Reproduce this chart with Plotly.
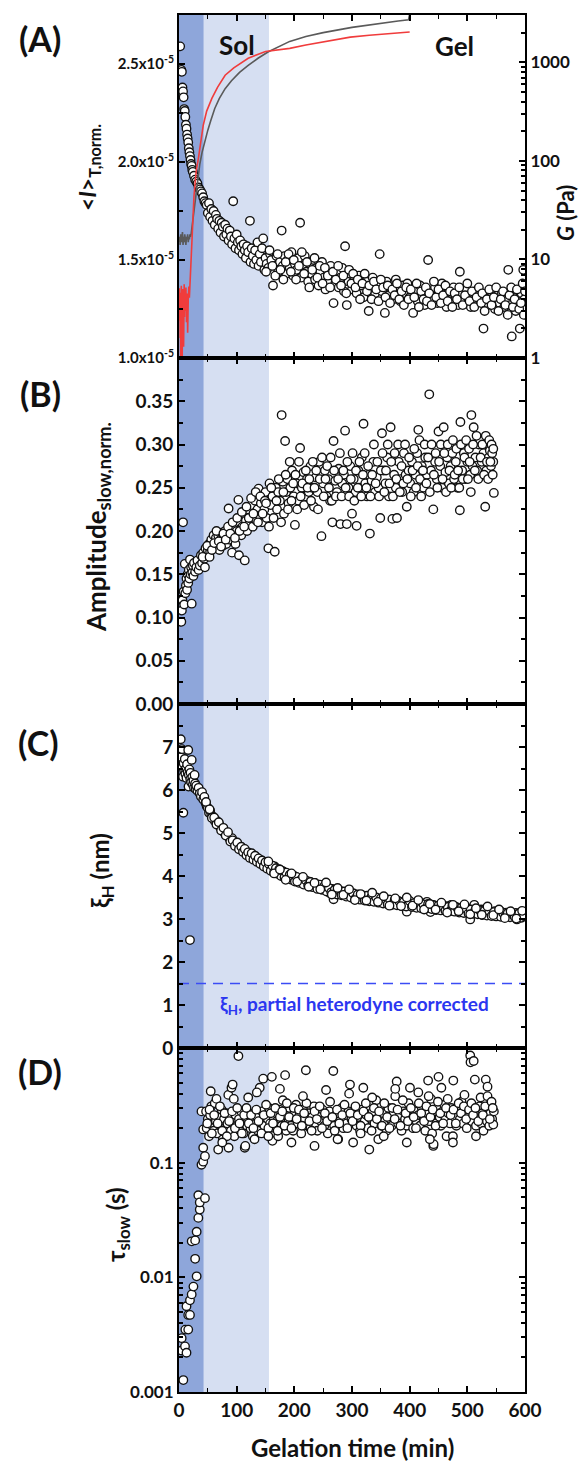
import plotly.graph_objects as go

# ---------------- data ----------------
# (A) normalised time-averaged intensity, in units of 1e-5
I_SCALE = 1e-5
t_A = [2, 4, 5, 6, 7, 8, 9, 10, 11, 12, 13, 14, 15, 16, 17, 18, 19, 20, 21, 22, 23, 24, 26, 28, 30, 32, 34, 36, 38, 40,
       42, 44, 46, 48, 50, 52, 54, 56, 58, 60, 62, 64, 66, 68, 70, 72, 74, 76, 78, 80, 82, 84, 86, 88, 90, 92, 94, 96,
       98, 100, 102, 104, 106, 108, 110, 112, 114, 116, 118, 120, 123, 124, 126, 128, 130, 132, 134, 136, 138, 140, 142,
       144, 146, 148, 150, 152, 155, 158, 160, 163, 166, 169, 172, 175, 178, 180, 183, 186, 189, 192, 195, 198, 201, 204,
       207, 210, 212, 215, 218, 221, 224, 227, 230, 233, 236, 239, 242, 245, 248, 251, 254, 257, 260, 263, 266, 268, 271,
       274, 277, 280, 283, 286, 288, 291, 294, 297, 300, 304, 308, 312, 316, 320, 324, 329, 332, 336, 340, 344, 348, 352,
       357, 360, 364, 368, 372, 376, 380, 384, 388, 392, 396, 400, 406, 410, 414, 418, 422, 426, 432, 436, 440, 444, 448,
       452, 456, 460, 464, 468, 472, 476, 480, 484, 487, 490, 494, 498, 502, 506, 510, 514, 518, 522, 528, 532, 536, 540,
       544, 548, 552, 556, 560, 564, 568, 571, 574, 577, 580, 584, 588, 591, 594, 597, 599]
I_A = [2.59, 2.47, 2.46, 2.38, 2.36, 2.33, 2.27, 2.26, 2.23, 2.19, 2.17, 2.14, 2.12, 2.10, 2.07, 2.05, 2.03, 2.01, 1.99,
       1.98, 1.96, 1.95, 1.93, 1.91, 1.90, 1.89, 1.87, 1.86, 1.85, 1.84, 1.82, 1.80, 1.79, 1.78, 1.74, 1.79, 1.72, 1.76,
       1.70, 1.75, 1.68, 1.73, 1.71, 1.66, 1.70, 1.64, 1.69, 1.67, 1.62, 1.68, 1.63, 1.66, 1.60, 1.65, 1.62, 1.58, 1.80,
       1.61, 1.56, 1.63, 1.59, 1.55, 1.60, 1.57, 1.53, 1.58, 1.55, 1.51, 1.57, 1.54, 1.70, 1.49, 1.56, 1.52, 1.48, 1.55,
       1.50, 1.59, 1.47, 1.53, 1.49, 1.56, 1.61, 1.45, 1.51, 1.48, 1.46, 1.53, 1.50, 1.37, 1.47, 1.52, 1.44, 1.49, 1.65,
       1.47, 1.52, 1.43, 1.50, 1.46, 1.54, 1.42, 1.48, 1.45, 1.51, 1.69, 1.41, 1.47, 1.52, 1.44, 1.39, 1.48, 1.43, 1.50,
       1.40, 1.46, 1.37, 1.44, 1.49, 1.41, 1.35, 1.45, 1.39, 1.47, 1.42, 1.28, 1.38, 1.44, 1.36, 1.41, 1.46, 1.34, 1.57,
       1.27, 1.39, 1.43, 1.35, 1.40, 1.33, 1.42, 1.37, 1.31, 1.39, 1.24, 1.36, 1.41, 1.33, 1.38, 1.53, 1.34, 1.23, 1.39,
       1.32, 1.36, 1.30, 1.40, 1.34, 1.29, 1.37, 1.33, 1.38, 1.31, 1.23, 1.35, 1.29, 1.37, 1.32, 1.27, 1.50, 1.34, 1.30,
       1.36, 1.28, 1.33, 1.38, 1.31, 1.26, 1.34, 1.29, 1.36, 1.31, 1.27, 1.44, 1.33, 1.29, 1.35, 1.30, 1.26, 1.33, 1.28,
       1.35, 1.30, 1.15, 1.32, 1.27, 1.34, 1.29, 1.25, 1.32, 1.28, 1.33, 1.26, 1.30, 1.45, 1.27, 1.11, 1.31, 1.24, 1.29,
       1.15, 1.33, 1.45, 1.30]
# second pass of the same acquisition (interleaved time stamps)
t_A2 = [151, 157, 162, 167, 171, 176, 181, 185, 190, 194, 199, 203, 208, 213, 217, 222, 226, 231, 235, 240, 244, 249,
        253, 258, 262, 267, 272, 276, 281, 285, 290, 295, 299, 302, 306, 310, 314, 318, 322, 326, 330, 334, 338, 342,
        346, 350, 354, 358, 362, 366, 370, 374, 378, 382, 386, 390, 394, 398, 402, 408, 412, 416, 420, 424, 428, 430,
        434, 438, 442, 446, 450, 454, 458, 462, 466, 470, 474, 478, 482, 486, 492, 496, 500, 504, 508, 512, 516, 520,
        524, 526, 530, 534, 538, 542, 546, 550, 554, 558, 562, 566, 570, 573, 576, 579, 582, 586, 590, 593, 596, 598,
        600]
I_A2 = [1.44, 1.55, 1.47, 1.42, 1.53, 1.45, 1.40, 1.49, 1.53, 1.44, 1.50, 1.40, 1.47, 1.54, 1.43, 1.49, 1.36, 1.45,
        1.51, 1.41, 1.47, 1.38, 1.46, 1.42, 1.36, 1.44, 1.40, 1.47, 1.37, 1.42, 1.33, 1.45, 1.38, 1.43, 1.36, 1.40,
        1.30, 1.38, 1.43, 1.34, 1.37, 1.30, 1.39, 1.35, 1.29, 1.40, 1.36, 1.31, 1.37, 1.28, 1.35, 1.32, 1.38, 1.30,
        1.34, 1.27, 1.36, 1.30, 1.35, 1.31, 1.38, 1.26, 1.34, 1.30, 1.36, 1.29, 1.33, 1.27, 1.39, 1.31, 1.35, 1.28,
        1.32, 1.37, 1.29, 1.34, 1.26, 1.33, 1.30, 1.36, 1.27, 1.32, 1.38, 1.29, 1.34, 1.26, 1.31, 1.36, 1.28, 1.33,
        1.24, 1.30, 1.35, 1.27, 1.31, 1.36, 1.24, 1.30, 1.34, 1.27, 1.22, 1.32, 1.36, 1.26, 1.30, 1.35, 1.25, 1.28,
        1.38, 1.22, 1.34]

# (A) rheology: storage modulus G' and loss modulus G'' (Pa)
t_Gs = [0, 1, 2, 3, 4, 5, 6, 7, 8, 9, 10, 11, 12, 13, 14, 15, 16, 17, 18, 19, 20, 21, 22, 23, 24, 25, 26, 28, 30, 33,
        36, 40, 45, 50, 55, 62, 70, 80, 91, 105, 120, 137, 155, 175, 192, 220, 250, 300, 350, 380, 398, 400]
G_storage = [15, 17, 14, 18, 15, 16, 19, 14, 17, 15, 18, 16, 14, 17, 16, 18, 15, 17, 16, 18, 17, 18, 20, 22, 25, 29,
             33, 42, 52, 70, 92, 122, 160, 205, 255, 340, 430, 540, 650, 790, 930, 1100, 1280, 1450, 1630, 1830,
             2000, 2260, 2500, 2620, 2700, 3100]
t_Gl = [0, 0.5, 1, 1.5, 2, 2.5, 3, 3.5, 4, 4.5, 5, 5.5, 6, 6.5, 7, 7.5, 8, 8.5, 9, 9.5, 10, 11, 12, 13, 14, 15, 16,
        17, 18, 19, 20, 21, 22, 24, 26, 28, 30, 33.5, 37, 42, 48, 57, 67, 80, 95, 120, 150, 178, 192, 220, 250, 297,
        330, 360, 397, 400]
G_loss = [3.2, 5.1, 2.4, 4.6, 1.6, 3.8, 0.7, 2.9, 5.4, 1.9, 4.2, 0.8, 3.1, 5.0, 2.2, 4.4, 1.3, 3.6, 5.6, 2.6, 4.8,
          3.0, 5.2, 2.3, 4.5, 1.8, 3.9, 5.3, 4.1, 5.8, 6.5, 9, 15, 25, 44, 60, 80, 105, 150, 229, 320, 430, 560, 740,
          880, 1100, 1290, 1350, 1385, 1500, 1620, 1800, 1880, 1950, 2020, 2030]

# (B) normalised amplitude of the slow mode
t_B = [4, 5, 6, 7, 8, 9, 10, 11, 12, 13, 14, 15, 16, 17, 18, 19, 20, 21, 22, 23, 24, 25, 26, 28, 30, 32, 34, 36, 38,
       40, 42, 44, 46, 48, 50, 52, 54, 56, 58, 60, 62, 64, 66, 68, 70, 72, 74, 76, 78, 80, 82, 84, 86, 88, 90, 92, 94,
       96, 98, 100, 103, 104, 106, 108, 110, 112, 114, 116, 118, 120, 122, 124, 126, 128, 130, 132, 134, 136, 138, 140,
       142, 144, 146, 148, 150, 152, 155, 157, 159, 162, 166, 168, 170, 172, 175, 178, 180, 182, 184, 186, 188, 190,
       193, 196, 199, 201, 204, 207, 210, 213, 216, 219, 222, 225, 228, 231, 234, 237, 240, 243, 247, 250, 253, 256,
       259, 262, 266, 268, 271, 274, 277, 280, 283, 286, 288, 291, 294, 297, 300, 303, 306, 308, 311, 314, 317, 320,
       323, 326, 329, 331, 334, 337, 340, 343, 346, 349, 352, 355, 358, 361, 364, 367, 370, 373, 376, 378, 381, 384,
       387, 390, 393, 395, 398, 401, 404, 407, 410, 413, 415, 418, 421, 424, 427, 430, 434, 437, 441, 444, 447, 450,
       453, 456, 459, 462, 465, 468, 471, 474, 477, 480, 483, 487, 488, 491, 494, 497, 500, 503, 505, 507, 509, 511,
       514, 517, 520, 522, 525, 528, 531, 533, 535, 537, 539, 541, 543, 545, 546]
amp_B = [0.095, 0.108, 0.12, 0.21, 0.13, 0.115, 0.162, 0.128, 0.137, 0.145, 0.132, 0.15, 0.14, 0.155, 0.145, 0.167,
         0.15, 0.158, 0.116, 0.152, 0.16, 0.148, 0.163, 0.153, 0.158, 0.166, 0.155, 0.16, 0.172, 0.163, 0.175, 0.168,
         0.18, 0.172, 0.178, 0.185, 0.176, 0.19, 0.182, 0.195, 0.18, 0.192, 0.186, 0.195, 0.178, 0.19, 0.198, 0.183,
         0.193, 0.2, 0.185, 0.195, 0.226, 0.19, 0.2, 0.175, 0.196, 0.205, 0.185, 0.2, 0.236, 0.172, 0.21, 0.195, 0.205,
         0.22, 0.166, 0.212, 0.2, 0.225, 0.208, 0.215, 0.23, 0.205, 0.22, 0.235, 0.212, 0.225, 0.249, 0.218, 0.232,
         0.21, 0.24, 0.225, 0.245, 0.215, 0.18, 0.255, 0.23, 0.24, 0.176, 0.25, 0.225, 0.245, 0.235, 0.334, 0.257,
         0.22, 0.304, 0.245, 0.26, 0.232, 0.25, 0.27, 0.24, 0.207, 0.255, 0.235, 0.296, 0.25, 0.268, 0.24, 0.26, 0.245,
         0.275, 0.25, 0.228, 0.262, 0.245, 0.28, 0.194, 0.255, 0.27, 0.24, 0.26, 0.235, 0.21, 0.304, 0.258, 0.245,
         0.272, 0.208, 0.255, 0.265, 0.316, 0.208, 0.25, 0.275, 0.22, 0.26, 0.245, 0.206, 0.27, 0.25, 0.285, 0.324,
         0.255, 0.24, 0.265, 0.197, 0.258, 0.28, 0.245, 0.262, 0.25, 0.215, 0.313, 0.27, 0.255, 0.285, 0.24, 0.32,
         0.214, 0.265, 0.25, 0.215, 0.28, 0.26, 0.245, 0.29, 0.265, 0.228, 0.27, 0.255, 0.28, 0.245, 0.265, 0.29, 0.317,
         0.26, 0.275, 0.25, 0.285, 0.265, 0.358, 0.27, 0.225, 0.28, 0.26, 0.315, 0.275, 0.25, 0.32, 0.268, 0.285,
         0.255, 0.275, 0.29, 0.26, 0.28, 0.25, 0.224, 0.326, 0.27, 0.29, 0.26, 0.28, 0.295, 0.265, 0.334, 0.275, 0.32,
         0.285, 0.27, 0.3, 0.305, 0.28, 0.29, 0.228, 0.27, 0.3, 0.285, 0.293, 0.275, 0.29, 0.28, 0.244]
t_B2 = [41, 45, 49, 53, 57, 61, 65, 69, 73, 77, 81, 85, 89, 93, 97, 101, 105, 109, 113, 117, 121, 125, 129, 133, 137,
        141, 145, 149, 151, 156, 160, 164, 169, 173, 177, 181, 185, 189, 192, 195, 198, 202, 205, 208, 211, 214, 217,
        220, 223, 226, 229, 232, 235, 238, 241, 244, 248, 251, 254, 257, 260, 263, 265, 269, 272, 276, 279, 282, 285,
        289, 292, 295, 298, 301, 304, 307, 310, 313, 316, 319, 322, 325, 328, 332, 335, 338, 341, 344, 347, 350, 353,
        356, 359, 362, 365, 368, 371, 374, 377, 380, 383, 386, 389, 392, 396, 399, 402, 405, 408, 411, 414, 417, 420,
        423, 426, 429, 432, 435, 438, 442, 445, 448, 451, 454, 457, 460, 463, 466, 469, 472, 475, 478, 481, 484, 486,
        489, 492, 495, 498, 501, 504, 506, 510, 513, 516, 519, 523, 526, 529, 532, 534, 536, 538, 540, 542, 544, 545]
amp_B2 = [0.17, 0.158, 0.183, 0.17, 0.178, 0.186, 0.2, 0.188, 0.182, 0.197, 0.19, 0.205, 0.197, 0.21, 0.192, 0.215,
          0.2, 0.222, 0.205, 0.228, 0.215, 0.238, 0.22, 0.245, 0.21, 0.24, 0.22, 0.235, 0.232, 0.205, 0.25, 0.215,
          0.235, 0.26, 0.21, 0.245, 0.265, 0.225, 0.28, 0.235, 0.255, 0.265, 0.225, 0.28, 0.24, 0.255, 0.23, 0.27,
          0.25, 0.26, 0.235, 0.28, 0.25, 0.27, 0.225, 0.26, 0.285, 0.24, 0.26, 0.275, 0.25, 0.285, 0.235, 0.27, 0.24,
          0.26, 0.29, 0.24, 0.27, 0.25, 0.28, 0.24, 0.26, 0.29, 0.235, 0.27, 0.25, 0.28, 0.24, 0.265, 0.29, 0.25,
          0.275, 0.24, 0.265, 0.3, 0.255, 0.28, 0.24, 0.27, 0.29, 0.245, 0.27, 0.3, 0.255, 0.28, 0.24, 0.29, 0.26,
          0.3, 0.245, 0.275, 0.255, 0.3, 0.26, 0.285, 0.24, 0.27, 0.295, 0.25, 0.275, 0.305, 0.24, 0.27, 0.3, 0.255,
          0.285, 0.245, 0.3, 0.265, 0.29, 0.25, 0.28, 0.3, 0.26, 0.29, 0.245, 0.3, 0.27, 0.25, 0.305, 0.265, 0.295,
          0.27, 0.25, 0.3, 0.26, 0.285, 0.305, 0.26, 0.28, 0.245, 0.3, 0.27, 0.31, 0.26, 0.285, 0.3, 0.265, 0.31,
          0.28, 0.26, 0.305, 0.28, 0.3, 0.265, 0.295]

# (C) hydrodynamic correlation length xi_H (nm)
t_C = [3, 4, 5, 6, 7, 7.5, 8, 9, 10, 11, 12, 13, 14, 15, 16, 16.5, 17, 18, 19, 19.5, 20, 21, 22, 23, 24, 25, 26, 27,
       28, 29, 30, 32, 34, 36, 38, 40, 42, 44, 46, 48, 50, 52, 54, 56, 58, 60, 62, 64, 66, 68, 70, 72, 74, 76, 78, 80,
       82, 84, 86, 88, 90, 92, 94, 96, 98, 100, 103, 106, 109, 112, 115, 118, 121, 124, 127, 130, 133, 136, 139, 142,
       145, 148, 151, 154, 157, 160, 163, 166, 169, 172, 175, 178, 181, 184, 187, 190, 193, 196, 199, 202, 206, 210,
       214, 218, 222, 226, 230, 234, 238, 242, 246, 250, 254, 258, 262, 266, 268, 272, 276, 280, 284, 288, 292, 296,
       300, 304, 308, 312, 316, 320, 324, 328, 332, 336, 340, 344, 348, 352, 356, 360, 364, 368, 372, 376, 380, 384,
       388, 392, 395, 398, 402, 406, 410, 414, 418, 422, 426, 430, 434, 436, 440, 444, 448, 452, 456, 460, 464, 468,
       472, 476, 480, 484, 488, 492, 496, 500, 504, 505, 508, 512, 516, 520, 524, 528, 532, 536, 540, 544, 548, 552,
       556, 560, 564, 568, 572, 576, 580, 584, 586, 588, 592, 596, 599]
xi_C = [7.18, 6.77, 6.95, 6.54, 6.31, 5.47, 6.62, 6.45, 6.72, 6.38, 6.50, 6.28, 6.60, 6.42, 6.93, 6.08, 6.35, 6.48,
        2.51, 6.25, 6.40, 6.18, 6.70, 6.30, 6.12, 6.22, 6.05, 6.35, 6.15, 6.02, 6.10, 5.98, 6.05, 5.92, 5.85, 5.95,
        5.78, 5.84, 5.70, 5.62, 5.58, 5.47, 5.52, 5.42, 5.38, 5.33, 5.28, 5.30, 5.22, 5.18, 5.20, 5.12, 5.08, 5.10,
        5.02, 4.98, 5.00, 4.93, 4.91, 4.86, 4.84, 4.88, 4.80, 4.76, 4.78, 4.72, 4.70, 4.64, 4.60, 4.62, 4.55, 4.52,
        4.50, 4.47, 4.49, 4.42, 4.45, 4.38, 4.35, 4.37, 4.30, 4.28, 4.22, 4.26, 4.20, 4.18, 4.15, 4.22, 4.12, 4.10,
        4.13, 4.06, 4.10, 4.04, 4.00, 4.05, 3.98, 3.96, 4.01, 3.93, 3.90, 3.95, 3.87, 3.89, 3.84, 3.87, 3.80, 3.82,
        3.78, 3.76, 3.79, 3.72, 3.74, 3.69, 3.60, 3.70, 3.46, 3.66, 3.63, 3.65, 3.60, 3.62, 3.57, 3.59, 3.55, 3.58,
        3.52, 3.56, 3.50, 3.53, 3.48, 3.51, 3.47, 3.50, 3.45, 3.48, 3.43, 3.46, 3.44, 3.41, 3.45, 3.40, 3.43, 3.38,
        3.42, 3.37, 3.40, 3.35, 3.17, 3.39, 3.36, 3.33, 3.38, 3.34, 3.31, 3.36, 3.32, 3.40, 3.29, 3.16, 3.33, 3.30,
        3.27, 3.32, 3.28, 3.25, 3.30, 3.26, 3.33, 3.23, 3.28, 3.24, 3.21, 3.26, 3.22, 3.25, 3.19, 2.99, 3.23, 3.33,
        3.20, 3.17, 3.22, 3.18, 3.15, 3.20, 3.16, 3.13, 3.18, 3.14, 3.11, 3.16, 3.12, 3.15, 3.10, 3.13, 3.09, 3.14,
        2.99, 3.11, 3.08, 3.12, 3.10]
t_C2 = [47, 53, 57, 61, 65, 69, 73, 77, 81, 85, 89, 93, 97, 101, 104, 108, 111, 114, 117, 120, 123, 126, 129, 132,
        135, 138, 141, 144, 147, 150, 153, 156, 159, 162, 165, 168, 171, 174, 177, 180, 183, 186, 189, 192, 195, 198,
        201, 204, 208, 212, 216, 220, 224, 228, 232, 236, 240, 244, 248, 252, 256, 260, 264, 270, 274, 278, 282, 286,
        290, 294, 298, 302, 306, 310, 314, 318, 322, 326, 330, 334, 338, 342, 346, 350, 354, 358, 362, 366, 370, 374,
        378, 382, 386, 390, 394, 400, 404, 408, 412, 416, 420, 424, 428, 432, 438, 442, 446, 450, 454, 458, 462, 466,
        470, 474, 478, 482, 486, 490, 494, 498, 502, 506, 510, 514, 518, 522, 526, 530, 534, 538, 542, 546, 550, 554,
        558, 562, 566, 570, 574, 578, 582, 590, 594, 598]
xi_C2 = [5.72, 5.55, 5.35, 5.36, 5.20, 5.25, 5.06, 5.12, 4.94, 5.02, 4.80, 4.83, 4.70, 4.78, 4.62, 4.68, 4.56, 4.63,
         4.48, 4.55, 4.42, 4.53, 4.38, 4.47, 4.33, 4.41, 4.28, 4.36, 4.22, 4.32, 4.17, 4.28, 4.12, 4.24, 4.09, 4.18,
         4.05, 4.16, 4.00, 4.11, 3.97, 4.08, 3.94, 4.03, 3.91, 3.99, 3.87, 3.98, 3.84, 3.92, 3.80, 3.90, 3.78, 3.86,
         3.74, 3.84, 3.70, 3.80, 3.68, 3.77, 3.64, 3.72, 3.62, 3.68, 3.57, 3.66, 3.55, 3.64, 3.52, 3.62, 3.50, 3.60,
         3.48, 3.57, 3.45, 3.55, 3.43, 3.54, 3.41, 3.52, 3.40, 3.50, 3.38, 3.48, 3.36, 3.47, 3.34, 3.45, 3.33, 3.44,
         3.32, 3.41, 3.30, 3.40, 3.29, 3.42, 3.28, 3.37, 3.26, 3.36, 3.25, 3.34, 3.24, 3.35, 3.23, 3.32, 3.21, 3.31,
         3.20, 3.29, 3.19, 3.28, 3.18, 3.30, 3.17, 3.27, 3.15, 3.26, 3.14, 3.24, 3.13, 3.22, 3.12, 3.21, 3.11, 3.20,
         3.09, 3.19, 3.08, 3.18, 3.07, 3.16, 3.06, 3.15, 3.05, 3.14, 3.06, 3.13, 3.04, 3.12, 3.05, 3.13, 3.03, 3.07]
t_C3 = [155, 165, 175, 185, 195, 205, 215, 225, 235, 245, 255, 265, 275, 285, 295, 305, 315, 325, 335, 345, 355, 365,
        375, 385, 395, 405, 415, 425, 435, 445, 455, 465, 475, 485, 495, 505, 515, 525, 535, 545, 555, 565, 575, 585,
        595]
xi_C3 = [4.34, 4.06, 4.15, 3.91, 4.06, 3.87, 3.98, 3.75, 3.84, 3.69, 3.85, 3.57, 3.72, 3.56, 3.69, 3.44, 3.58, 3.43,
         3.61, 3.40, 3.53, 3.31, 3.48, 3.30, 3.50, 3.31, 3.44, 3.22, 3.35, 3.22, 3.38, 3.15, 3.33, 3.18, 3.34, 3.11,
         3.25, 3.10, 3.29, 3.09, 3.22, 3.02, 3.18, 3.01, 3.19]
XI_CORRECTED = 1.5  # partial-heterodyne-corrected level (nm)

# (D) relaxation time of the slow mode (s)
t_D = [4.6, 4.6, 7.5, 10.4, 11, 13, 13, 16, 16, 19, 19, 22, 22, 25, 28, 28, 30.6, 30.6, 33.5, 33.5, 36, 36, 39, 42,
       42, 42, 45, 45, 39, 47, 48, 50, 52, 54, 56, 58, 60, 62, 64, 65, 66, 68, 70, 72, 74, 76, 78, 80, 82, 84, 85.5,
       86, 88, 90, 91, 93, 94, 96, 98, 100, 103, 104, 106, 108, 110, 112, 114, 116, 118, 120, 122, 124, 126, 128, 130,
       131, 133, 135, 137, 140, 142, 144, 146, 148, 150, 152, 154, 156, 158, 161, 162, 164, 166, 168, 170, 172, 174,
       176, 178, 180, 182, 184, 186, 188, 190, 192, 194, 196, 198, 200, 203, 206, 209, 212, 215, 218, 220, 222, 225,
       228, 231, 234, 237, 240, 243, 246, 249, 252, 255, 258, 261, 264, 267.6, 269, 272, 276, 279, 282, 285, 288, 291,
       294, 296.5, 299, 302, 305, 308, 311, 314, 317, 319.6, 322, 325, 328, 330, 333, 336, 339, 342, 345.6, 348, 351,
       354, 357, 360, 363, 366, 369, 372, 375, 377.5, 380, 383, 386, 389, 392, 395, 398, 400.5, 403, 406, 409, 412,
       415, 418, 421, 424, 427, 430, 432, 434, 437, 439, 441, 441.5, 443, 446, 448, 450, 452, 454, 457, 460, 462, 464,
       467, 470, 472, 475, 475.7, 478, 481, 484, 487, 490, 493, 496, 499, 502, 505, 505.5, 508, 511, 512, 513, 515,
       518, 521, 524, 526, 528, 530, 532, 534, 536, 538, 540, 541, 543, 545, 546]
tau_D = [0.00295, 0.0023, 0.00127, 0.0025, 0.0035, 0.0022, 0.0056, 0.0035, 0.0047, 0.0047, 0.0063, 0.0071, 0.0206,
         0.0083, 0.021, 0.0145, 0.0102, 0.025, 0.033, 0.052, 0.039, 0.045, 0.096, 0.102, 0.135, 0.195, 0.049, 0.114,
         0.28, 0.28, 0.20, 0.24, 0.17, 0.26, 0.31, 0.21, 0.19, 0.33, 0.23, 0.36, 0.18, 0.13, 0.25, 0.21, 0.29, 0.16,
         0.24, 0.20, 0.27, 0.22, 0.39, 0.135, 0.25, 0.19, 0.45, 0.48, 0.23, 0.17, 0.26, 0.21, 0.85, 0.24, 0.19, 0.28,
         0.22, 0.18, 0.135, 0.25, 0.21, 0.37, 0.26, 0.20, 0.23, 0.17, 0.27, 0.16, 0.22, 0.25, 0.19, 0.45, 0.23, 0.28,
         0.54, 0.21, 0.26, 0.18, 0.24, 0.30, 0.22, 0.56, 0.155, 0.25, 0.20, 0.27, 0.23, 0.17, 0.29, 0.24, 0.21, 0.35,
         0.26, 0.58, 0.19, 0.28, 0.23, 0.30, 0.21, 0.25, 0.19, 0.27, 0.32, 0.22, 0.26, 0.18, 0.29, 0.24, 0.64, 0.21,
         0.27, 0.20, 0.25, 0.31, 0.22, 0.19, 0.26, 0.23, 0.29, 0.21, 0.25, 0.18, 0.28, 0.24, 0.63, 0.21, 0.26, 0.16,
         0.23, 0.30, 0.20, 0.25, 0.22, 0.28, 0.48, 0.24, 0.15, 0.27, 0.21, 0.25, 0.19, 0.29, 0.45, 0.23, 0.26, 0.20,
         0.13, 0.24, 0.28, 0.22, 0.35, 0.16, 0.25, 0.21, 0.27, 0.23, 0.19, 0.30, 0.24, 0.21, 0.27, 0.38, 0.51, 0.22,
         0.26, 0.19, 0.28, 0.24, 0.21, 0.33, 0.45, 0.25, 0.20, 0.28, 0.23, 0.26, 0.21, 0.30, 0.24, 0.19, 0.27, 0.52,
         0.23, 0.36, 0.18, 0.14, 0.145, 0.26, 0.22, 0.30, 0.56, 0.25, 0.21, 0.28, 0.32, 0.24, 0.17, 0.27, 0.22, 0.30,
         0.17, 0.52, 0.25, 0.21, 0.29, 0.24, 0.34, 0.22, 0.27, 0.20, 0.25, 0.86, 0.75, 0.23, 0.77, 0.28, 0.53, 0.21,
         0.26, 0.31, 0.22, 0.27, 0.19, 0.25, 0.53, 0.23, 0.29, 0.21, 0.27, 0.33, 0.24, 0.215, 0.28]
t_D2 = [49, 53, 57, 61, 67, 71, 75, 79, 83, 87, 92, 97, 101, 105, 109, 113, 117, 121, 125, 129, 134, 138, 143, 147,
        151, 155, 159, 163, 167, 171, 175, 179, 183, 187, 191, 195, 199, 204, 208, 213, 217, 221, 226, 230, 235, 239,
        244, 248, 253, 257, 262, 266, 270, 274, 278, 283, 287, 292, 297, 301, 306, 310, 315, 320, 324, 329, 334, 338,
        343, 347, 352, 356, 361, 365, 370, 374, 379, 384, 388, 393, 397, 402, 407, 411, 416, 420, 425, 429, 433, 436,
        440, 445, 449, 453, 458, 463, 466, 471, 476, 480, 485, 489, 494, 498, 503, 507, 510, 514, 519, 523, 527, 531,
        535, 539, 542, 544]
tau_D2 = [0.22, 0.29, 0.18, 0.26, 0.22, 0.31, 0.19, 0.27, 0.17, 0.23, 0.28, 0.2, 0.3, 0.22, 0.18, 0.26, 0.3, 0.22,
          0.26, 0.2, 0.29, 0.23, 0.18, 0.26, 0.32, 0.2, 0.27, 0.22, 0.3, 0.19, 0.25, 0.28, 0.21, 0.33, 0.25, 0.2, 0.3,
          0.24, 0.29, 0.21, 0.27, 0.33, 0.23, 0.19, 0.28, 0.24, 0.31, 0.2, 0.27, 0.23, 0.34, 0.25, 0.19, 0.29, 0.22,
          0.26, 0.32, 0.2, 0.27, 0.23, 0.31, 0.26, 0.21, 0.28, 0.33, 0.25, 0.19, 0.3, 0.24, 0.28, 0.21, 0.33, 0.25,
          0.2, 0.3, 0.24, 0.29, 0.21, 0.35, 0.27, 0.23, 0.3, 0.25, 0.2, 0.33, 0.27, 0.23, 0.31, 0.38, 0.25, 0.29, 0.21,
          0.34, 0.27, 0.22, 0.3, 0.36, 0.26, 0.29, 0.22, 0.33, 0.27, 0.31, 0.24, 0.29, 0.33, 0.26, 0.3, 0.23, 0.37,
          0.26, 0.31, 0.38, 0.24, 0.34, 0.3]
t_D3 = [55, 75, 95, 115, 135, 155, 175, 195, 215, 235, 255, 275, 295, 315, 335, 355, 375, 395, 415, 435, 455, 475,
        495, 515, 535]
tau_D3 = [0.42, 0.15, 0.36, 0.14, 0.41, 0.17, 0.44, 0.15, 0.38, 0.14, 0.43, 0.16, 0.40, 0.18, 0.37, 0.17, 0.44, 0.15,
          0.41, 0.16, 0.45, 0.15, 0.39, 0.17, 0.46]

# gelation regimes (min)
REGION_DARK = (0, 43)
REGION_SOL = (43, 156)

# ---------------- styling ----------------
W, H = 580, 1461
FONT = "Lato"
INK = "#111111"
X_DOM = [179 / W, 525 / W]


def ydom(top_px, bot_px):
    return [1 - bot_px / H, 1 - top_px / H]


DOM_A = ydom(15, 358)
DOM_B = ydom(358, 704)
DOM_C = ydom(704, 1048)
DOM_D = ydom(1048, 1392)

marker = dict(size=8.5, color="white", line=dict(color="#111111", width=1.35))

fig = go.Figure()
fig.add_trace(go.Scatter(x=t_A + t_A2, y=[v * I_SCALE for v in I_A + I_A2], mode="markers", marker=marker,
                         xaxis="x", yaxis="y", showlegend=False))
fig.add_trace(go.Scatter(x=t_Gs, y=G_storage, mode="lines", line=dict(color="#5a5a5a", width=1.6),
                         xaxis="x", yaxis="y2", showlegend=False))
fig.add_trace(go.Scatter(x=t_Gl, y=G_loss, mode="lines", line=dict(color="#f03c3c", width=1.6),
                         xaxis="x", yaxis="y2", showlegend=False))
fig.add_trace(go.Scatter(x=t_B + t_B2, y=amp_B + amp_B2, mode="markers", marker=marker,
                         xaxis="x2", yaxis="y3", showlegend=False))
fig.add_trace(go.Scatter(x=[0, 600], y=[XI_CORRECTED, XI_CORRECTED], mode="lines",
                         line=dict(color="#3b4cf5", width=1.5, dash="10px,7px"),
                         xaxis="x3", yaxis="y4", showlegend=False))
fig.add_trace(go.Scatter(x=t_C + t_C2 + t_C3, y=xi_C + xi_C2 + xi_C3, mode="markers", marker=marker,
                         xaxis="x3", yaxis="y4", showlegend=False))
fig.add_trace(go.Scatter(x=t_D + t_D2 + t_D3, y=tau_D + tau_D2 + tau_D3, mode="markers", marker=marker,
                         xaxis="x4", yaxis="y5", showlegend=False))

axis_common = dict(showline=True, linecolor="black", linewidth=2, ticks="inside", tickcolor="black",
                   ticklen=6, tickwidth=1.5, showgrid=False, zeroline=False, automargin=False)


def xax(anchor, show_labels):
    return dict(axis_common, domain=X_DOM, anchor=anchor, range=[0, 600], dtick=100, tick0=0,
                mirror="ticks", showticklabels=show_labels,
                minor=dict(dtick=50, ticks="inside", ticklen=4, tickcolor="black", tickwidth=1.2),
                tickfont=dict(family=FONT, size=19, color=INK, weight="bold"))


def log_minor(lo, hi):
    vals = []
    for d in range(lo, hi):
        for m in range(2, 10):
            vals.append(m * 10 ** d)
    return vals


def tick_font(size):
    return dict(family=FONT, size=size, color=INK, weight="bold")


i_ticks = [1.0e-5, 1.5e-5, 2.0e-5, 2.5e-5]
i_text = ["1.0x10<sup>-5</sup>", "1.5x10<sup>-5</sup>", "2.0x10<sup>-5</sup>", "2.5x10<sup>-5</sup>"]

fig.update_layout(
    width=W, height=H, autosize=False, margin=dict(l=0, r=0, t=0, b=0, pad=0),
    paper_bgcolor="white", plot_bgcolor="rgba(0,0,0,0)",
    xaxis=xax("y", False),
    xaxis2=xax("y3", False),
    xaxis3=xax("y4", False),
    xaxis4=xax("y5", True),
    yaxis=dict(axis_common, domain=DOM_A, anchor="x", range=[1.0e-5, 2.75e-5], tickvals=i_ticks,
               ticktext=i_text, mirror=False,
               minor=dict(tickvals=[1.25e-5, 1.75e-5, 2.25e-5, 2.75e-5], ticks="inside", ticklen=4,
                          tickcolor="black"),
               tickfont=tick_font(15)),
    yaxis2=dict(axis_common, overlaying="y", side="right", anchor="x", type="log", range=[0, 3.48],
                tickvals=[1, 10, 100, 1000], ticktext=["1", "10", "100", "1000"],
                minor=dict(tickvals=log_minor(0, 4), ticks="inside", ticklen=4, tickcolor="black"),
                tickfont=tick_font(17)),
    yaxis3=dict(axis_common, domain=DOM_B, anchor="x2", range=[0, 0.40], tickvals=[0, 0.05, 0.1, 0.15, 0.2,
                0.25, 0.3, 0.35], tickformat=".2f", mirror="ticks",
                minor=dict(dtick=0.025, ticks="inside", ticklen=4, tickcolor="black"),
                tickfont=tick_font(19)),
    yaxis4=dict(axis_common, domain=DOM_C, anchor="x3", range=[0, 8], tickvals=[0, 1, 2, 3, 4, 5, 6, 7],
                mirror="ticks",
                minor=dict(dtick=0.5, ticks="inside", ticklen=4, tickcolor="black"),
                tickfont=tick_font(19)),
    yaxis5=dict(axis_common, domain=DOM_D, anchor="x4", type="log", range=[-3, 0],
                tickvals=[0.001, 0.01, 0.1], ticktext=["0.001", "0.01", "0.1"], mirror="ticks",
                minor=dict(tickvals=log_minor(-3, 0), ticks="inside", ticklen=4, tickcolor="black"),
                tickfont=tick_font(17)),
)

# shaded gelation regimes spanning all panels
for (x0, x1), col in [(REGION_DARK, "#8ea6da"), (REGION_SOL, "#d6dff2")]:
    fig.add_shape(type="rect", xref="x", yref="paper", x0=x0, x1=x1, y0=DOM_D[0], y1=DOM_A[1],
                  fillcolor=col, line=dict(width=0), layer="below")


def px(xp, yp):
    return xp / W, 1 - yp / H


def note(text, xp, yp, size, angle=0, color=INK, bold=True):
    x, y = px(xp, yp)
    fig.add_annotation(x=x, y=y, xref="paper", yref="paper", text=text, showarrow=False,
                       textangle=angle, xanchor="center", yanchor="middle",
                       font=dict(family=FONT, size=size, color=color, weight="bold" if bold else "normal"))


# panel letters
note("(A)", 40, 38, 34)
note("(B)", 40, 393, 34)
note("(C)", 38, 742, 34)
note("(D)", 40, 1071, 34)

# regime labels
note("Sol", 237, 45, 26)
note("Gel", 454, 46, 26)

# axis titles
note("&lt;<i>I</i>&gt;<sub>T,norm.</sub>", 88, 168, 23, angle=-90)
note("<i>G</i> (Pa)", 565, 213, 22, angle=-90)
note("Amplitude<sub>slow,norm.</sub>", 97, 527, 26, angle=-90)
note("ξ<sub>H</sub> (nm)", 101, 870, 24, angle=-90)
note("τ<sub>slow</sub> (s)", 117, 1224, 24, angle=-90)
note("Gelation time (min)", 352, 1447, 24)

# corrected-level label
note("ξ<sub>H</sub>, partial heterodyne corrected", 355, 1005, 19, color="#2b36f0")

fig.write_html("out.html", config={"responsive": False})
